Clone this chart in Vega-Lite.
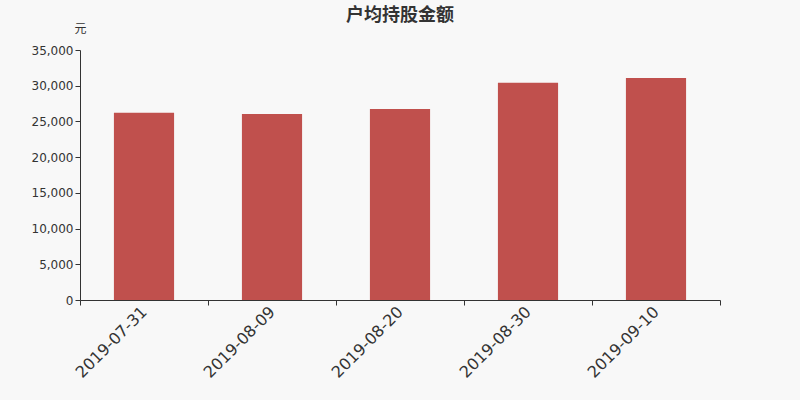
{
  "$schema": "https://vega.github.io/schema/vega-lite/v6.json",
  "autosize": "none",
  "width": 640,
  "height": 250,
  "padding": {"left": 80, "top": 50, "right": 80, "bottom": 100},
  "background": "#f8f8f8",
  "title": {
    "text": "户均持股金额",
    "font": "Noto Sans CJK SC",
    "fontSize": 18,
    "fontWeight": "bold",
    "color": "#333333",
    "anchor": "middle",
    "frame": "group",
    "offset": -3
  },
  "data": {
    "values": [
      {"date": "2019-07-31", "amount": 26220},
      {"date": "2019-08-09", "amount": 26040},
      {"date": "2019-08-20", "amount": 26740},
      {"date": "2019-08-30", "amount": 30420},
      {"date": "2019-09-10", "amount": 31080}
    ]
  },
  "mark": {"type": "bar", "color": "#c0504d", "width": {"band": 0.47}},
  "encoding": {
    "x": {
      "field": "date",
      "type": "nominal",
      "sort": null,
      "scale": {"paddingInner": 0, "paddingOuter": 0},
      "axis": {
        "title": null,
        "labelAngle": -45,
        "labelAlign": "right",
        "labelBaseline": "middle",
        "labelFont": "DejaVu Sans",
        "labelFontSize": 16,
        "labelColor": "#333333",
        "labelPadding": 4,
        "tickBand": "extent",
        "tickColor": "#333333",
        "tickSize": 5,
        "domainColor": "#333333",
        "grid": false
      }
    },
    "y": {
      "field": "amount",
      "type": "quantitative",
      "scale": {"domain": [0, 35000]},
      "axis": {
        "title": "元",
        "titleAngle": 0,
        "titleX": 0,
        "titleY": -15,
        "titleAlign": "center",
        "titleFont": "Noto Sans CJK SC",
        "titleFontSize": 12,
        "titleFontWeight": "normal",
        "titleColor": "#333333",
        "values": [0, 5000, 10000, 15000, 20000, 25000, 30000, 35000],
        "format": ",d",
        "labelFont": "DejaVu Sans",
        "labelFontSize": 12,
        "labelColor": "#333333",
        "tickColor": "#333333",
        "tickSize": 5,
        "domainColor": "#333333",
        "grid": false
      }
    }
  },
  "config": {"view": {"stroke": null}}
}
